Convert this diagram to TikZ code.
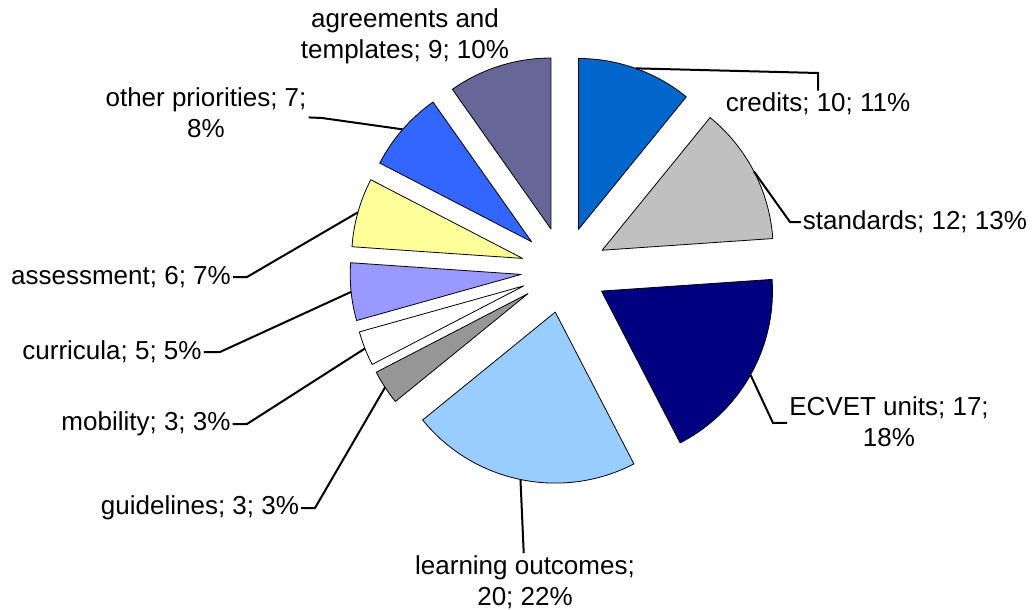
\documentclass[tikz,border=0pt]{standalone}
\usepackage{fontspec}
\setmainfont{Liberation Sans}
\usepackage{tikz}
\definecolor{credits}{RGB}{0,102,204}
\definecolor{standards}{RGB}{192,192,192}
\definecolor{ecvet}{RGB}{0,0,128}
\definecolor{outcomes}{RGB}{153,204,255}
\definecolor{guidelines}{RGB}{150,150,150}
\definecolor{mobility}{RGB}{255,255,255}
\definecolor{curricula}{RGB}{153,153,255}
\definecolor{assessment}{RGB}{255,255,153}
\definecolor{priorities}{RGB}{51,102,255}
\definecolor{agreements}{RGB}{102,102,153}
\tikzset{
    x=1pt, y=-1pt, % one unit per pixel, y runs down
    wedge/.style={ % Pie slices
        draw=black,
        line width=0.8pt,
        line join=round
    },
    leader/.style={ % Lines from slice to its text
        draw,
        line width=2pt
    },
    tag/.style={
        font=\fontsize{26}{31}\selectfont,
        align=center,
        inner sep=2pt
    }
}

\begin{document}
\begin{tikzpicture}
            \useasboundingbox (0,0) rectangle (1034,610);
            \coordinate (c) at (564,270);

            % slices, each pushed out along its middle
            \path (c) ++(-70.435:43) coordinate (cr) ++(-70.435:171) coordinate (cr-tip);
            \draw[wedge, fill=credits] (cr) -- ++(-90:171) arc[start angle=-90, end angle=-50.870, radius=171] -- cycle;
            \path (c) ++(-27.391:43) coordinate (st) ++(-27.391:171) coordinate (st-tip);
            \draw[wedge, fill=standards] (st) -- ++(-50.870:171) arc[start angle=-50.870, end angle=-3.913, radius=171] -- cycle;
            \path (c) ++(29.348:43) coordinate (ec) ++(29.348:171) coordinate (ec-tip);
            \draw[wedge, fill=ecvet] (ec) -- ++(-3.913:171) arc[start angle=-3.913, end angle=62.609, radius=171] -- cycle;
            \path (c) ++(101.739:43) coordinate (lo) ++(101.739:171) coordinate (lo-tip);
            \draw[wedge, fill=outcomes] (lo) -- ++(62.609:171) arc[start angle=62.609, end angle=140.870, radius=171] -- cycle;
            \path (c) ++(146.739:43) coordinate (gl) ++(146.739:171) coordinate (gl-tip);
            \draw[wedge, fill=guidelines] (gl) -- ++(140.870:171) arc[start angle=140.870, end angle=152.609, radius=171] -- cycle;
            \path (c) ++(158.478:43) coordinate (mo) ++(158.478:171) coordinate (mo-tip);
            \draw[wedge, fill=mobility] (mo) -- ++(152.609:171) arc[start angle=152.609, end angle=164.348, radius=171] -- cycle;
            \path (c) ++(174.130:43) coordinate (cu) ++(174.130:171) coordinate (cu-tip);
            \draw[wedge, fill=curricula] (cu) -- ++(164.348:171) arc[start angle=164.348, end angle=183.913, radius=171] -- cycle;
            \path (c) ++(195.652:43) coordinate (as) ++(195.652:171) coordinate (as-tip);
            \draw[wedge, fill=assessment] (as) -- ++(183.913:171) arc[start angle=183.913, end angle=207.391, radius=171] -- cycle;
            \path (c) ++(221.087:43) coordinate (op) ++(221.087:171) coordinate (op-tip);
            \draw[wedge, fill=priorities] (op) -- ++(207.391:171) arc[start angle=207.391, end angle=234.783, radius=171] -- cycle;
            \path (c) ++(252.391:43) coordinate (ag);
            \draw[wedge, fill=agreements] (ag) -- ++(234.783:171) arc[start angle=234.783, end angle=270, radius=171] -- cycle;

            % texts
            \node[tag] (cr-lbl) at (818,104) {credits; 10; 11\%};
            \node[tag] (st-lbl) at (915,222) {standards; 12; 13\%};
            \node[tag] (ec-lbl) at (889,422) {ECVET units; 17;\\18\%};
            \node[tag] (lo-lbl) at (525,582) {learning outcomes;\\20; 22\%};
            \node[tag] (gl-lbl) at (200,508) {guidelines; 3; 3\%};
            \node[tag] (mo-lbl) at (146,424) {mobility; 3; 3\%};
            \node[tag] (cu-lbl) at (112,352) {curricula; 5; 5\%};
            \node[tag] (as-lbl) at (121,277) {assessment; 6; 7\%};
            \node[tag] (op-lbl) at (206,113) {other priorities; 7;\\8\%};
            \node[tag] (ag-lbl) at (405,36) {agreements and\\templates; 9; 10\%};

            \draw[leader] (cr-tip) -- (818,73) -- (cr-lbl);
            \draw[leader] (st-tip) -- (790,222) -- (st-lbl);
            \draw[leader] (ec-tip) -- (773,423) -- (ec-lbl);
            \draw[leader] (lo-tip) -- (lo-lbl);
            \draw[leader] (gl-tip) -- (315,508) -- (gl-lbl);
            \draw[leader] (mo-tip) -- (247,424) -- (mo-lbl);
            \draw[leader] (cu-tip) -- (220,352) -- (cu-lbl);
            \draw[leader] (as-tip) -- (247,277) -- (as-lbl);
            \draw[leader] (op-tip) -- (322,118) -- (op-lbl);
\end{tikzpicture}
\end{document}
